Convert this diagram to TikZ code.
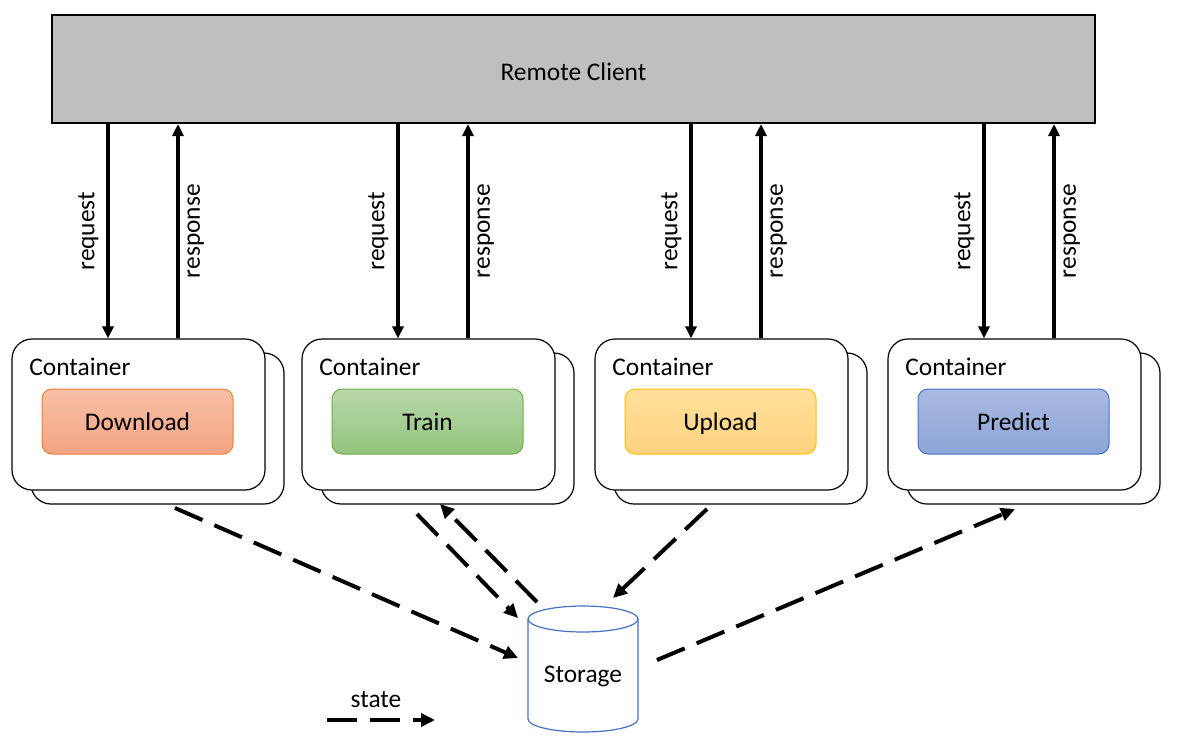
\documentclass[tikz,border=0pt]{standalone}
\usepackage{fontspec}
\setmainfont{Carlito}
\usetikzlibrary{arrows.meta}
\definecolor{clientgray}{RGB}{191,191,191}
\definecolor{orTop}{RGB}{247,192,166}
\definecolor{orBot}{RGB}{244,164,130}
\definecolor{orLine}{RGB}{237,125,49}
\definecolor{grTop}{RGB}{183,216,170}
\definecolor{grBot}{RGB}{147,196,125}
\definecolor{grLine}{RGB}{112,173,71}
\definecolor{yeTop}{RGB}{255,225,155}
\definecolor{yeBot}{RGB}{255,210,127}
\definecolor{yeLine}{RGB}{255,192,0}
\definecolor{blTop}{RGB}{170,186,225}
\definecolor{blBot}{RGB}{140,164,214}
\definecolor{blLine}{RGB}{68,114,196}
\tikzset{
  lbl/.style={font=\fontsize{12.7}{15}\selectfont, text=black},
  clientbox/.style={draw=black, line width=1pt, fill=clientgray, minimum width=521.5pt, minimum height=54pt, inner sep=0pt, text height=11pt, text depth=0pt, lbl},
  contbox/.style={draw=black, line width=0.6pt, fill=white, rounded corners=10pt, minimum width=126.5pt, minimum height=75.5pt, inner sep=0pt},
  taskbox/.style={draw=#1Line, line width=0.5pt, rounded corners=5pt, top color=#1Top, bottom color=#1Bot, minimum width=95.5pt, minimum height=32.5pt, inner sep=0pt, text height=11pt, text depth=2pt, lbl},
  solidarrow/.style={line width=1.6pt, -{Triangle[length=6pt,width=5.5pt]}},
  statearrow/.style={line width=2pt, dash pattern=on 15pt off 6.5pt, -{Triangle[length=7pt,width=6.5pt]}},
  storeline/.style={draw=blLine, line width=0.6pt},
}
\begin{document}
\begin{tikzpicture}[x=0.5pt,y=-0.5pt]
\useasboundingbox (0,0) rectangle (1188,751);
\node[clientbox] (client) at (573.5,69) {Remote Client};

\foreach \i/\L/\task/\col in {1/12/Download/or, 2/302/Train/gr, 3/595/Upload/ye, 4/888/Predict/bl}{
  \node[contbox] (back\i) at (\L+145.5,428.5) {};
  \node[contbox] (front\i) at (\L+126.5,414.5) {};
  \node[lbl, anchor=west, inner sep=0pt] (clab\i) at (\L+17,367) {Container};
  \node[taskbox=\col] (task\i) at (\L+125.5,421.5) {\task};
  \coordinate (rq\i) at (\L+96,0);
  \coordinate (rs\i) at (\L+166,0);
  \draw[solidarrow] (client.south -| rq\i) -- (front\i.north -| rq\i)
    node[midway, lbl, rotate=90, anchor=south, inner sep=4pt] {request};
  \draw[solidarrow] (front\i.north -| rs\i) -- (client.south -| rs\i)
    node[midway, lbl, rotate=90, anchor=north, inner sep=4pt] {response};
}

% storage cylinder
\draw[storeline, fill=white] (528,619) -- (528,719) arc[start angle=180, end angle=360, x radius=27.5pt, y radius=6.5pt] -- (638,619);
\draw[storeline, fill=white] (583,619) ellipse [x radius=27.5pt, y radius=6.5pt];
\node[lbl] (storage) at (583,676) {Storage};

% state connectors
\coordinate (a1s) at (175,508);  \coordinate (a1e) at (518,658);
\coordinate (a2s) at (417,514);  \coordinate (a2e) at (518,618);
\coordinate (a3s) at (537,602);  \coordinate (a3e) at (440,504);
\coordinate (a4s) at (707,509);  \coordinate (a4e) at (613,598);
\coordinate (a5s) at (657,660);  \coordinate (a5e) at (1015,509);
\draw[statearrow] (a1s) -- (a1e);
\draw[statearrow] (a2s) -- (a2e);
\draw[statearrow] (a3s) -- (a3e);
\draw[statearrow] (a4s) -- (a4e);
\draw[statearrow] (a5s) -- (a5e);

% legend
\coordinate (ls) at (327,720); \coordinate (le) at (435,720);
\draw[statearrow] (ls) -- (le);
\node[lbl] (statelab) at (376,700) {state};
\end{tikzpicture}
\end{document}
